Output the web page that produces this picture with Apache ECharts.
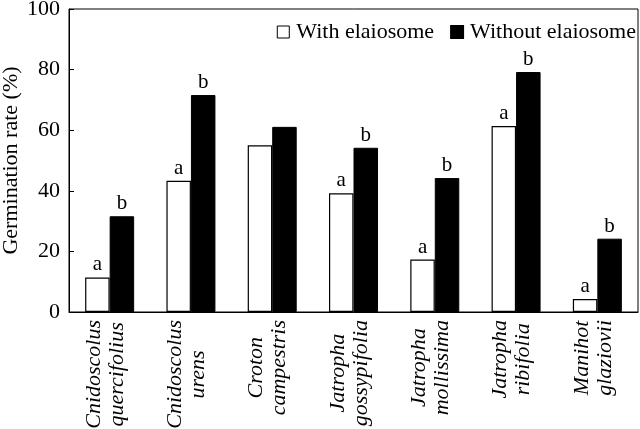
<!DOCTYPE html>
<html>
<head>
<meta charset="utf-8">
<script src="https://cdn.jsdelivr.net/npm/echarts@6/dist/echarts.min.js"></script>
<style>html,body{margin:0;padding:0;background:#fff;}#c{width:640px;height:429px;}</style>
</head>
<body>
<div id="c"></div>
<script>
const genus = ['Cnidoscolus','Cnidoscolus','Croton','Jatropha','Jatropha','Jatropha','Manihot'];
const species = ['quercifolius','urens','campestris','gossypifolia','mollissima','ribifolia','glaziovii'];
const withElaiosome = [11.4, 43.3, 55.0, 39.2, 17.3, 61.4, 4.3];
const withoutElaiosome = [31.6, 71.6, 61.1, 54.2, 44.2, 79.2, 24.2];
const lettersWith = ['a','a','','a','a','a','a'];
const lettersWithout = ['b','b','','b','b','b','b'];
const yTicks = [0, 20, 40, 60, 80, 100];

const FONT = 'Liberation Serif';
const cv = document.createElement('canvas').getContext('2d');
cv.font = 'italic 22px "Liberation Serif"';
const rich = {};
genus.forEach((g, i) => {
  const wg = cv.measureText(g).width, ws = cv.measureText(species[i]).width;
  const W = Math.max(wg, ws);
  const base = {fontStyle: 'italic', fontSize: 22, fontFamily: FONT, color: '#000', lineHeight: 23};
  rich['g' + i] = Object.assign({}, base, {padding: [0, (W - wg) / 2, 0, 0]});
  rich['s' + i] = Object.assign({}, base, {padding: [0, (W - ws) / 2, 0, 0]});
});

const chart = echarts.init(document.getElementById('c'), null, {renderer: 'canvas'});
chart.setOption({
  animation: false,
  backgroundColor: '#fff',
  grid: {left: 69, right: 2, top: 9, bottom: 117, show: true, borderColor: '#000', borderWidth: 1,
    containLabel: false, outerBoundsMode: 'none'},
  legend: {
    right: 4, top: 21, padding: 0, itemWidth: 12, itemHeight: 12, itemGap: 16,
    textStyle: {fontFamily: FONT, fontSize: 22, color: '#000', padding: [0, 0, 0, 2]},
    data: [
      {name: 'With elaiosome', icon: 'rect', itemStyle: {color: '#fff', borderColor: '#000', borderWidth: 1}},
      {name: 'Without elaiosome', icon: 'rect', itemStyle: {color: '#000'}}
    ]
  },
  xAxis: {
    type: 'category',
    data: genus.map((g, i) => g + '|' + species[i]),
    axisLine: {lineStyle: {color: '#000', width: 1}},
    axisTick: {show: false},
    axisLabel: {
      rotate: 90, margin: 8, interval: 0, padding: [0, 0, 8, 0],
      formatter: (v, idx) => { const p = v.split('|'); return '{g' + idx + '|' + p[0] + '}\n{s' + idx + '|' + p[1] + '}'; },
      rich: rich
    }
  },
  yAxis: {
    type: 'value', min: yTicks[0], max: yTicks[yTicks.length - 1], interval: 20,
    name: 'Germination rate (%)', nameLocation: 'middle', nameGap: 47, nameMoveOverlap: false,
    nameTextStyle: {fontFamily: FONT, fontSize: 22, color: '#000'},
    axisLine: {show: true, lineStyle: {color: '#000', width: 1}},
    axisTick: {show: true, inside: true, length: 5, lineStyle: {color: '#000'}},
    splitLine: {show: false},
    axisLabel: {fontFamily: FONT, fontSize: 22, color: '#000', margin: 9}
  },
  series: [
    {
      name: 'With elaiosome', type: 'bar', data: withElaiosome, barWidth: 24.5, barGap: '0%',
      itemStyle: {color: '#fff', borderColor: '#000', borderWidth: 1.2},
      label: {show: true, position: 'top', distance: 2, fontFamily: FONT, fontSize: 21, color: '#000',
        formatter: p => lettersWith[p.dataIndex]}
    },
    {
      name: 'Without elaiosome', type: 'bar', data: withoutElaiosome, barWidth: 24.5, barGap: '0%',
      itemStyle: {color: '#000', borderColor: '#000', borderWidth: 1},
      label: {show: true, position: 'top', distance: 2, fontFamily: FONT, fontSize: 21, color: '#000',
        formatter: p => lettersWithout[p.dataIndex]}
    }
  ]
});
</script>
</body>
</html>
